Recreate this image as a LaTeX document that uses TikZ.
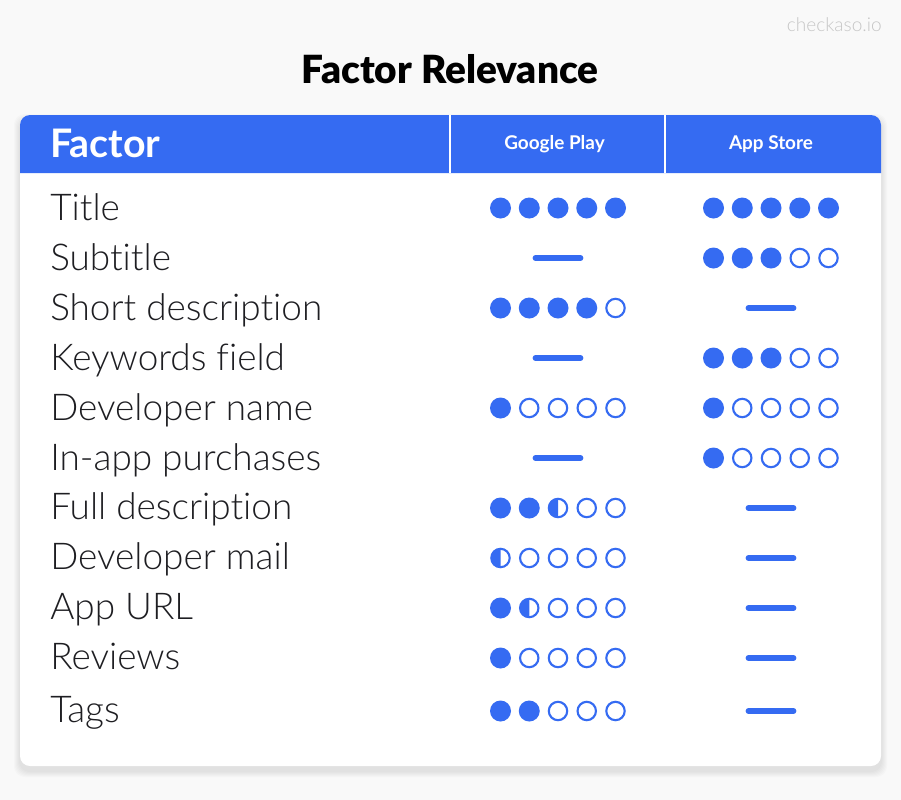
\documentclass[tikz,border=0pt]{standalone}
\usepackage{fontspec}
\setmainfont{Lato}[Ligatures=NoCommon]
\newfontfamily\lightfont{Lato Light}[Ligatures=NoCommon]
\newfontfamily\heavyfont{Lato Black}[Ligatures=NoCommon]
\usepackage{xcolor}

\definecolor{pagegray}{HTML}{F9F9F9}
\definecolor{ratingblue}{HTML}{356BF2}
\definecolor{inkgray}{HTML}{1E1E22}
\definecolor{markgray}{HTML}{C6C6C6}

\tikzset{
  factorlabel/.style={anchor=base west,text=inkgray,font=\lightfont\fontsize{27.7}{32}\selectfont,inner sep=0pt},
  headlabel/.style={anchor=base,text=white,font=\fontsize{14.2}{17}\selectfont\bfseries,inner sep=0pt},
  fulldot/.style={fill=ratingblue},
  opendot/.style={draw=ratingblue,line width=1.6pt,fill=white},
  nodash/.style={draw=ratingblue,line width=4.3pt,line cap=round}
}

% #1 centre of the middle dot, #2 row, #3 full dots, #4 half dots (-1 gives a dash)
\newcommand{\ratingrow}[4]{%
  \ifnum#3<0
    \draw[nodash] ({#1-22.5},#2) -- ({#1+22.5},#2);
  \else
    \foreach \i in {1,...,5} {
      \pgfmathsetmacro{\dotx}{#1+(\i-3)*28.75}
      \pgfmathtruncatemacro{\halfend}{#3+#4}
      \ifnum\i>\halfend
        \draw[opendot] (\dotx,#2) circle (9.2);
      \else
        \ifnum\i>#3
          \draw[opendot] (\dotx,#2) circle (9.2);
          \fill[ratingblue] (\dotx,{#2-9.5}) arc (270:90:9.5) -- cycle;
        \else
          \fill[fulldot] (\dotx,#2) circle (10.5);
        \fi
      \fi
    }
  \fi
}

\begin{document}
\begin{tikzpicture}[x=0.75pt,y=-0.75pt]

\useasboundingbox (0,0) rectangle (901,800);
\fill[pagegray] (0,0) rectangle (901,800);

% soft shadow of the card
\foreach \s in {6,5,...,1} {
  \fill[black,opacity=0.014,rounded corners=8pt] ({20-\s},{115-\s+5}) rectangle ({881+\s},{766+\s+5});
}
\fill[white,rounded corners=7.5pt] (20,115) rectangle (881,766);
\fill[ratingblue] (20,173) -- (20,125) arc (180:270:10) -- (871,115) arc (270:360:10) -- (881,173) -- cycle;

\draw[white,line width=1.5pt] (450,115) -- (450,173);
\draw[white,line width=1.5pt] (665,115) -- (665,173);

\node[text=markgray,font=\lightfont\fontsize{14.3}{17}\selectfont,anchor=base east,inner sep=0pt] (mark) at (882,31.5) {checkaso.io};
\node[anchor=base,text=black,font=\heavyfont\fontsize{29.1}{34}\selectfont,inner sep=0pt] (heading) at (450,83) {Factor Relevance};

\node[anchor=base west,text=white,font=\fontsize{29.5}{35}\selectfont\bfseries,inner sep=0pt] (factor) at (50,157.5) {Factor};
\node[headlabel] (play) at (554.5,149) {Google Play};
\node[headlabel] (store) at (771,149) {App Store};

\foreach \y/\base/\name/\txt/\pf/\ph/\af/\ah in {
  208/220/title/Title/5/0/5/0,
  258/270/subtitle/Subtitle/-1/0/3/0,
  308/320/short/Short description/4/0/-1/0,
  358/370/keywords/Keywords field/-1/0/3/0,
  408/420/devname/Developer name/1/0/1/0,
  458/470/inapp/In-app purchases/-1/0/1/0,
  508/519/full/Full description/2/1/-1/0,
  558/569/mail/Developer mail/0/1/-1/0,
  608/619/url/App URL/1/1/-1/0,
  658/669/reviews/Reviews/1/0/-1/0,
  711/722/tags/Tags/2/0/-1/0} {
  \node[factorlabel] (\name) at (50,\base) {\txt};
  \ratingrow{558}{\y}{\pf}{\ph}
  \ratingrow{771}{\y}{\af}{\ah}
}

\end{tikzpicture}
\end{document}
